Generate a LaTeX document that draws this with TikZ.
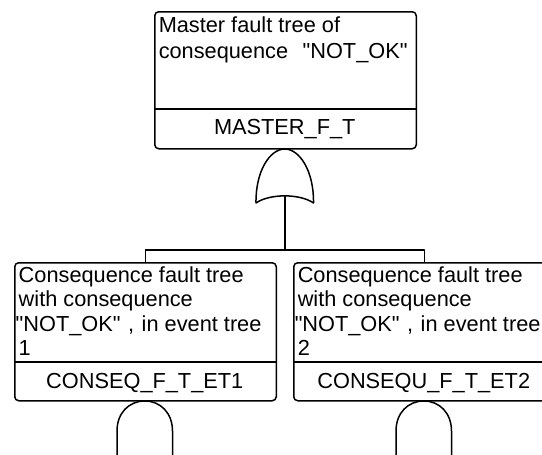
\documentclass[tikz,border=0pt]{standalone}
\usepackage{fontspec}
% plain font family: keeps straight ASCII quotes
\newfontfamily\labelfont{Liberation Sans}
\begin{document}
\begin{tikzpicture}[x=1pt,y=-1pt,line width=1.5pt,line join=round,
  treebox/.style={draw, rounded corners=4pt, minimum width=261.5pt,
    minimum height=138pt, inner sep=0pt, anchor=north west},
  desc/.style={anchor=base west, align=left, inner sep=0pt,
    font=\labelfont\fontsize{21.75}{24.5}\selectfont},
  ident/.style={anchor=base, inner sep=0pt,
    font=\labelfont\fontsize{21.75}{24.5}\selectfont},
  gate/.style={draw, line width=1.5pt, line join=round}]
\useasboundingbox (0,0) rectangle (542,455);
\clip (0,0) rectangle (542,455);

% ---- top event: master fault tree ----
% (description nodes are placed by the baseline of their last line)
\node[treebox, minimum height=137pt] (master) at (154,11) {};
\draw (154,109) -- (415.5,109);
\node[desc, font=\labelfont\fontsize{21.75}{26}\selectfont] (mastertxt) at (158,59)
  {Master fault tree of\\consequence\hspace{8.5pt} "NOT\_OK"};
\node[ident] (masterid) at (284.75,134) {MASTER\_F\_T};

% OR gate under the master event
\coordinate (ortop) at (284.75,149);
\coordinate (orout) at (284.75,196);
\path[gate] (256,203) .. controls (255.5,171) and (270,149) .. (ortop)
  .. controls (299.5,149) and (314,171) .. (313.5,203)
  .. controls (300,193.5) and (269.5,193.5) .. (256,203) -- cycle;

% ---- consequence fault trees ----
\node[treebox] (et1) at (14,262) {};
\draw (14,362) -- (275.5,362);
\node[desc] (et1txt) at (18,355.5)
  {Consequence fault tree\\with consequence\\\kern-3pt"NOT\_OK"\hspace{1.5pt} ,\hspace{1.5pt} in event tree\\1};
\node[ident] (et1id) at (144.75,388) {CONSEQ\_F\_T\_ET1};

\node[treebox] (et2) at (293,262) {};
\draw (293,362) -- (554.5,362);
\node[desc] (et2txt) at (297,355.5)
  {Consequence fault tree\\with consequence\\\kern-3pt"NOT\_OK"\hspace{1.5pt} ,\hspace{1.5pt} in event tree\\2};
\node[ident] (et2id) at (423.75,388) {CONSEQU\_F\_T\_ET2};

% connectors from the OR gate to both inputs
\coordinate (bar) at (284.75,250);
\draw (orout) -- (bar) -| (et1.north);
\draw (bar) -| (et2.north);

% AND gates under each consequence tree
\path[gate] (117,460) -- (117,431) .. controls (117,413) and (129,401) .. (144.75,401)
  .. controls (160.5,401) and (172.5,413) .. (172.5,431) -- (172.5,460);
\path[gate] (396,460) -- (396,431) .. controls (396,413) and (408,401) .. (423.75,401)
  .. controls (439.5,401) and (451.5,413) .. (451.5,431) -- (451.5,460);
\end{tikzpicture}
\end{document}
